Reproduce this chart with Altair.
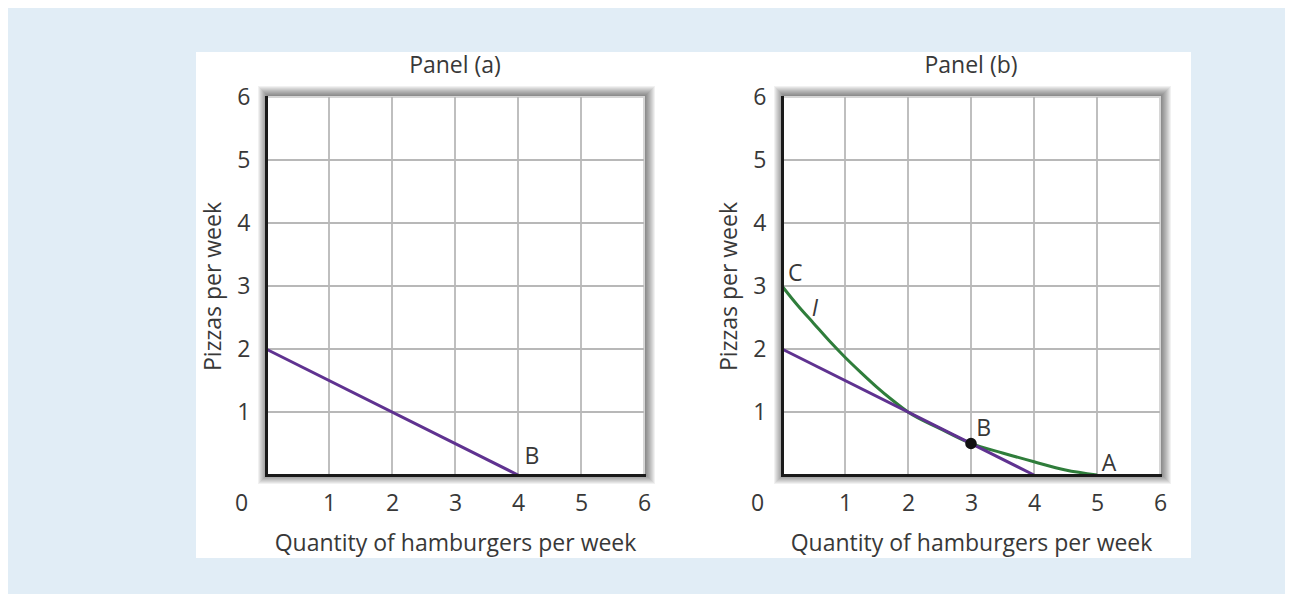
import altair as alt
import pandas as pd

# ---------------- data ----------------
tick_values = [0, 1, 2, 3, 4, 5, 6]
grid_values = [1, 2, 3, 4, 5]

budget_x = [0, 4]
budget_y = [2, 0]

curve_x = [0, 0.25, 0.5, 0.75, 1.0, 1.25, 1.5, 1.75, 2.0, 2.5, 3.0, 3.5, 4.0, 4.5, 5.0]
curve_y = [3.0, 2.69, 2.41, 2.13, 1.87, 1.63, 1.40, 1.19, 1.0, 0.74, 0.5, 0.35, 0.21, 0.08, 0.0]

point_x = [3]
point_y = [0.5]

panel_titles = ["Panel (a)", "Panel (b)"]

labels_a_text = ["B"]
labels_a_x = [4.22]
labels_a_y = [0.28]

labels_b_text = ["C", "B", "A"]
labels_b_x = [0.21, 3.2, 5.19]
labels_b_y = [3.19, 0.73, 0.17]

curve_label_text = ["I"]
curve_label_x = [0.52]
curve_label_y = [2.63]

# ---------------- styling ----------------
FONT = "Open Sans"
FS = 23
TXT = "#383838"
PURPLE = "#5f3290"
GREEN = "#2f7d3b"
W = H = 378

budget_df = pd.DataFrame({"x": budget_x, "y": budget_y})
curve_df = pd.DataFrame({"x": curve_x, "y": curve_y})
point_df = pd.DataFrame({"x": point_x, "y": point_y})
grid_df = pd.DataFrame({"g": grid_values})
one = pd.DataFrame({"k": [0]})

xs = alt.Scale(domain=[0, 6], nice=False, zero=False)
ys = alt.Scale(domain=[0, 6], nice=False, zero=False)


def x_axis():
    return alt.Axis(
        values=tick_values, grid=False, ticks=False, format="d",
        domainColor="#1a1a1a", domainWidth=3, domainCap="square",
        labelFont=FONT, labelFontSize=FS, labelColor=TXT,
        labelPadding=17, labelFlush=False, labelOverlap=False,
        labelOffset={"condition": {"test": "datum.value === 0", "value": -25}, "value": 0},
        title="Quantity of hamburgers per week",
        titleFont=FONT, titleFontSize=FS, titleFontWeight="normal", titleColor=TXT,
        titlePadding=17, zindex=1,
    )


def y_axis():
    return alt.Axis(
        values=[1, 2, 3, 4, 5, 6], grid=False, ticks=False, format="d",
        domainColor="#1a1a1a", domainWidth=3, domainCap="square",
        labelFont=FONT, labelFontSize=FS, labelColor=TXT,
        labelPadding=16, labelOverlap=False,
        title="Pizzas per week",
        titleFont=FONT, titleFontSize=FS, titleFontWeight="normal", titleColor=TXT,
        titlePadding=11, zindex=1,
    )


def panel(title, with_box, budget, curve=None, point=None, labels=None, italic=None):
    layers = []
    if with_box:
        layers.append(
            alt.Chart(one).mark_rect(color="white").encode(
                x=alt.value(-70), x2=alt.value(925), y=alt.value(-45), y2=alt.value(461)
            )
        )
    # soft shadow around the plot box
    for d in range(1, 12):
        layers.append(
            alt.Chart(one).mark_rect(color="black", opacity=0.055).encode(
                x=alt.value(-d + 3), x2=alt.value(W + d), y=alt.value(-d), y2=alt.value(H + d - 2)
            )
        )
    layers.append(
        alt.Chart(one).mark_rect(fill="white", stroke="#d6d6d6", strokeWidth=2).encode(
            x=alt.value(0), x2=alt.value(W), y=alt.value(0), y2=alt.value(H)
        )
    )
    layers.append(
        alt.Chart(grid_df).mark_rule(color="#b8b8b8", strokeWidth=1.8).encode(
            x=alt.X("g:Q", scale=xs, axis=x_axis())
        )
    )
    layers.append(
        alt.Chart(grid_df).mark_rule(color="#b8b8b8", strokeWidth=1.8).encode(
            y=alt.Y("g:Q", scale=ys, axis=y_axis())
        )
    )
    if curve is not None:
        layers.append(
            alt.Chart(curve).mark_line(color=GREEN, strokeWidth=3, interpolate="monotone").encode(
                x=alt.X("x:Q", scale=xs), y=alt.Y("y:Q", scale=ys)
            )
        )
    layers.append(
        alt.Chart(budget).mark_line(color=PURPLE, strokeWidth=3).encode(
            x=alt.X("x:Q", scale=xs), y=alt.Y("y:Q", scale=ys)
        )
    )
    if point is not None:
        layers.append(
            alt.Chart(point).mark_circle(color="#111111", size=135, opacity=1).encode(
                x=alt.X("x:Q", scale=xs), y=alt.Y("y:Q", scale=ys)
            )
        )
    if labels is not None:
        layers.append(
            alt.Chart(labels).mark_text(font=FONT, fontSize=FS, color=TXT, align="center", baseline="middle").encode(
                x=alt.X("x:Q", scale=xs), y=alt.Y("y:Q", scale=ys), text="t:N"
            )
        )
    if italic is not None:
        layers.append(
            alt.Chart(italic).mark_text(font=FONT, fontSize=FS, fontStyle="italic", color=TXT,
                                        align="center", baseline="middle").encode(
                x=alt.X("x:Q", scale=xs), y=alt.Y("y:Q", scale=ys), text="t:N"
            )
        )
    # panel title as a text mark centred above the plot box
    layers.append(
        alt.Chart(pd.DataFrame({"t": [title]})).mark_text(
            font=FONT, fontSize=FS, color=TXT, align="center", baseline="middle"
        ).encode(x=alt.value(W / 2), y=alt.value(-31), text="t:N")
    )
    return alt.layer(*layers).properties(width=W, height=H)


labels_a = pd.DataFrame({"t": labels_a_text, "x": labels_a_x, "y": labels_a_y})
labels_b = pd.DataFrame({"t": labels_b_text, "x": labels_b_x, "y": labels_b_y})
italic_b = pd.DataFrame({"t": curve_label_text, "x": curve_label_x, "y": curve_label_y})

panel_a = panel(panel_titles[0], True, budget_df, labels=labels_a)
panel_b = panel(panel_titles[1], False, budget_df, curve=curve_df, point=point_df,
                labels=labels_b, italic=italic_b)

chart = alt.hconcat(panel_a, panel_b, spacing=138, bounds="flush").properties(
    background="#e1edf6",
    padding={"left": 188, "top": 44, "right": 94, "bottom": 36},
).configure_view(stroke=None)

chart.save("out.html", embed_options={"renderer": "svg", "actions": False})
